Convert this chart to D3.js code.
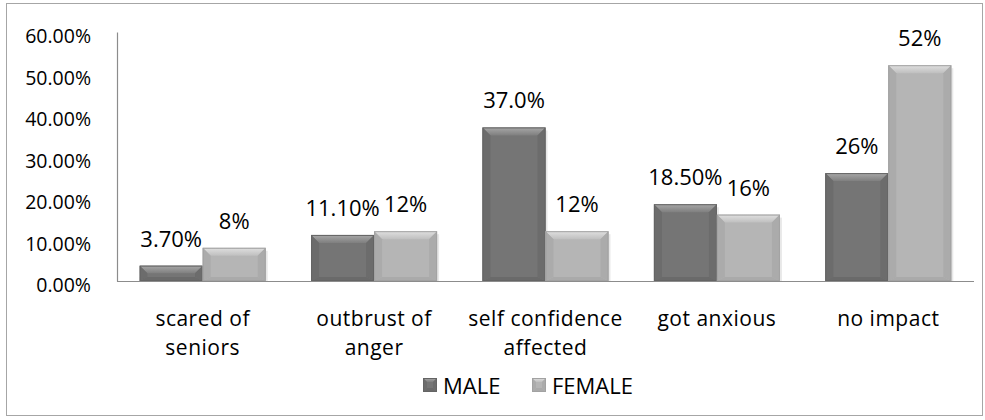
<!DOCTYPE html>
<html><head><meta charset="utf-8">
<script src="https://cdn.jsdelivr.net/npm/d3@7"></script>
<style>
html,body{margin:0;padding:0;background:#fff;}
svg{display:block;}
text{font-family:"Open Sans",sans-serif;fill:#000;}
</style></head>
<body>
<svg id="chart" width="985" height="420"></svg>
<script>
const categories = [["scared of","seniors"],["outbrust of","anger"],["self confidence","affected"],["got anxious"],["no impact"]];
const seriesNames = ["MALE","FEMALE"];
const maleValues = [3.7, 11.1, 37.0, 18.5, 26];
const femaleValues = [8, 12, 12, 16, 52];
const maleLabels = ["3.70%","11.10%","37.0%","18.50%","26%"];
const femaleLabels = ["8%","12%","12%","16%","52%"];
const yTicks = [0,10,20,30,40,50,60];
const yTickLabels = ["0.00%","10.00%","20.00%","30.00%","40.00%","50.00%","60.00%"];

const svg = d3.select("#chart");
const plot = {left:117, right:974, top:32, bottom:281};

const palettes = {
  MALE:   {face:"#757575", top0:"#a8a8a8", top1:"#7f7f7f", side:"#6c6c6c", bottom:"#6a6a6a", stroke:"#646464"},
  FEMALE: {face:"#b5b5b5", top0:"#e0e0e0", top1:"#bfbfbf", side:"#ababab", bottom:"#aaaaaa", stroke:"#a2a2a2"}
};

const defs = svg.append("defs");
Object.entries(palettes).forEach(([k,p])=>{
  const g = defs.append("linearGradient").attr("id","top-"+k).attr("x1",0).attr("y1",0).attr("x2",0).attr("y2",1);
  g.append("stop").attr("offset","0%").attr("stop-color",p.top0);
  g.append("stop").attr("offset","100%").attr("stop-color",p.top1);
});

// outer border
svg.append("rect").attr("x",6.5).attr("y",3.5).attr("width",976).attr("height",412)
  .attr("fill","none").attr("stroke","#a6a6a6").attr("stroke-width",1);

const x0 = d3.scaleBand().domain(d3.range(categories.length)).range([plot.left, plot.right])
  .paddingInner(0.265).paddingOuter(0.1325);
const x1 = d3.scaleBand().domain(seriesNames).range([0, x0.bandwidth()]);
const y = d3.scaleLinear().domain([0,60]).range([plot.bottom, plot.top]);

// y axis
const yAxis = d3.axisLeft(y).tickValues(yTicks).tickFormat((d,i)=>yTickLabels[i]).tickSize(0).tickPadding(26);
const yg = svg.append("g").attr("transform",`translate(${plot.left},0)`).call(yAxis);
yg.select(".domain").attr("stroke","#8c8c8c").attr("stroke-width",1.2);
yg.selectAll("text").attr("font-size","19.5px").attr("font-family","'Open Sans',sans-serif").attr("fill","#000").attr("dy","0.55em");

function bevelBar(g, x, yTop, w, h, key, bv){
  const p = palettes[key];
  const b = Math.min(bv, h/2, w/2);
  const bb = Math.min(4, h/2);
  const yb = yTop + h;
  g.append("rect").attr("x",x).attr("y",yTop).attr("width",w).attr("height",h).attr("fill",p.face);
  g.append("polygon").attr("points",[[x,yTop],[x+w,yTop],[x+w-b,yTop+b],[x+b,yTop+b]].join(" ")).attr("fill",`url(#top-${key})`);
  g.append("polygon").attr("points",[[x,yTop],[x+b,yTop+b],[x+b,yb-bb],[x,yb]].join(" ")).attr("fill",p.side);
  g.append("polygon").attr("points",[[x+w,yTop],[x+w-b,yTop+b],[x+w-b,yb-bb],[x+w,yb]].join(" ")).attr("fill",p.side);
  g.append("polygon").attr("points",[[x,yb],[x+b,yb-bb],[x+w-b,yb-bb],[x+w,yb]].join(" ")).attr("fill",p.bottom);
  g.append("rect").attr("x",x+0.5).attr("y",yTop+0.5).attr("width",w-1).attr("height",Math.max(0,h-1))
    .attr("fill","none").attr("stroke",p.stroke).attr("stroke-width",1);
}

const series = [
  {name:"MALE", values:maleValues, labels:maleLabels},
  {name:"FEMALE", values:femaleValues, labels:femaleLabels}
];

const barsG = svg.append("g");
series.forEach(s=>{
  s.values.forEach((v,i)=>{
    const bx = x0(i) + x1(s.name);
    const w = x1.bandwidth();
    const yt = y(v);
    barsG.append("rect").attr("x",bx+w).attr("y",yt+3).attr("width",2).attr("height",plot.bottom-yt-3).attr("fill","#e8e8e8");
    bevelBar(barsG, bx, yt, w, plot.bottom - yt, s.name, 8);
  });
});

// x axis line
svg.append("line").attr("x1",plot.left).attr("x2",plot.right).attr("y1",plot.bottom+0.5).attr("y2",plot.bottom+0.5)
  .attr("stroke","#8c8c8c").attr("stroke-width",1.2);

// value labels
series.forEach(s=>{
  s.values.forEach((v,i)=>{
    svg.append("text").attr("x",x0(i)+x1(s.name)+x1.bandwidth()/2).attr("y",y(v)-19)
      .attr("text-anchor","middle").attr("font-size","22px").text(s.labels[i]);
  });
});

// category labels (one text element per line)
categories.forEach((lines,i)=>{
  lines.forEach((ln,j)=>{
    svg.append("text").attr("text-anchor","middle").attr("font-size","21px").attr("letter-spacing","0.5px")
      .attr("x",x0(i)+x0.bandwidth()/2).attr("y",326+j*29).text(ln);
  });
});

// legend
const legendItems = [{name:"MALE", x:423},{name:"FEMALE", x:532}];
legendItems.forEach(it=>{
  const g = svg.append("g");
  bevelBar(g, it.x, 378, 14, 14, it.name, 4);
  svg.append("text").attr("x",it.x+20).attr("y",394).attr("font-size","22px").text(it.name);
});
</script>
</body></html>
